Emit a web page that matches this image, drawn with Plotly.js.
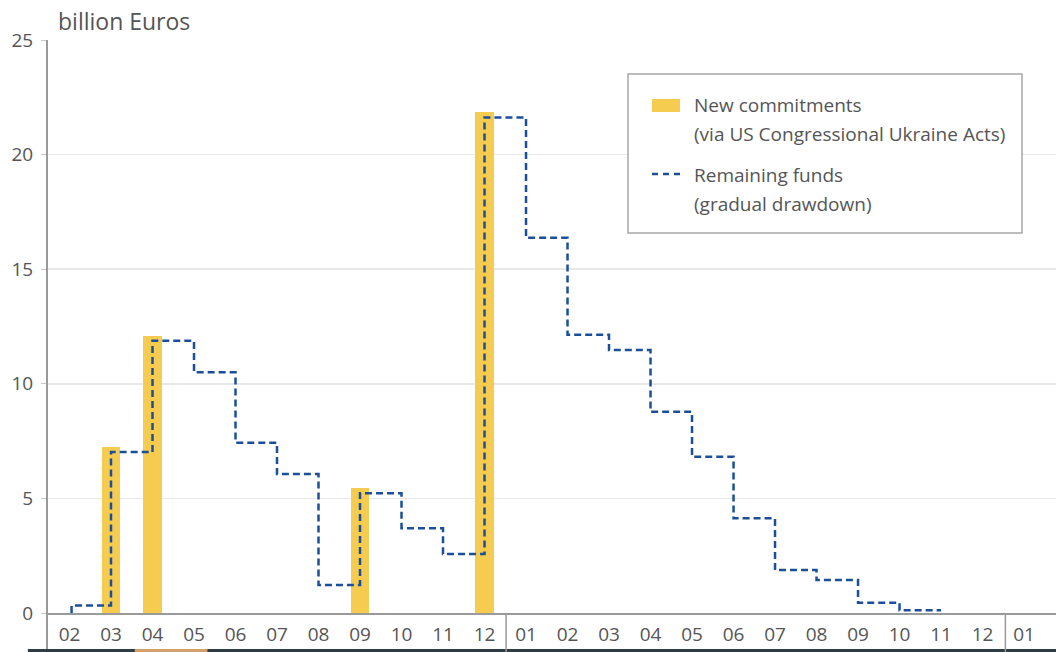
<!DOCTYPE html>
<html>
<head>
<meta charset="utf-8">
<script src="https://cdn.plot.ly/plotly-3.0.1.min.js"></script>
<style>
  html, body { margin: 0; padding: 0; background: #ffffff; }
  #chart { width: 1056px; height: 652px; }
</style>
</head>
<body>
<div id="chart"></div>
<script>
// Month positions (Feb 2022 .. Jan 2024) and their tick labels
const monthIndex = [0,1,2,3,4,5,6,7,8,9,10,11,12,13,14,15,16,17,18,19,20,21,22,23];
const monthLabels = ["02","03","04","05","06","07","08","09","10","11","12",
                     "01","02","03","04","05","06","07","08","09","10","11","12","01"];

// New commitments (billion Euros) – bars
const commitMonths = [1, 2, 7, 10];
const commitValues = [7.25, 12.1, 5.45, 21.85];

// Remaining funds (billion Euros) – step line, level held from each month to the next
const fundsMonths = [0.05, 0.05, 1, 2, 3, 4, 5, 6, 7, 8, 9, 10, 11, 12, 13, 14, 15, 16, 17, 18, 19, 20, 21];
const fundsValues = [0, 0.33, 7.02, 11.88, 10.5, 7.43, 6.06, 1.22, 5.23, 3.7, 2.57,
                     21.62, 16.37, 12.14, 11.47, 8.78, 6.82, 4.13, 1.88, 1.44, 0.45, 0.12, 0.12];

// Year separators between December and January
const yearBreaks = [10.52, 22.55];

// Legend texts
const legendLines = ["New commitments", "(via US Congressional Ukraine Acts)",
                     "Remaining funds", "(gradual drawdown)"];

const FONT = "Open Sans, Lato, sans-serif";
const TXT = "#555555";
const BAR = "#F5CC4F";
const LINE = "#1B4F9C";

const traces = [
  {
    type: "bar",
    name: legendLines[0] + " " + legendLines[1],
    x: commitMonths,
    y: commitValues,
    width: 0.45,
    marker: { color: BAR, line: { width: 0 } },
    showlegend: false,
    hoverinfo: "y"
  },
  {
    type: "scatter",
    mode: "lines",
    name: legendLines[2] + " " + legendLines[3],
    x: fundsMonths,
    y: fundsValues,
    line: { shape: "hv", color: LINE, width: 2.5, dash: "7px,4px" },
    showlegend: false,
    hoverinfo: "y"
  }
];

// pixel -> paper helpers for the legend box (plot area: x 47..1056, y 40..613)
const px = v => (v - 47) / 1009;
const py = v => (613 - v) / 573;

const shapes = [
  // y axis line extended down through the label band
  { type: "line", xref: "paper", yref: "paper", x0: 0, x1: 0, y0: -0.07, y1: 1,
    line: { color: "#999999", width: 2 } },
  // bottom strip
  { type: "rect", xref: "paper", yref: "paper", x0: -0.019, x1: 1, y0: -0.0685, y1: -0.063,
    fillcolor: "#2F3E46", line: { width: 0 } },
  { type: "rect", xref: "paper", yref: "paper", x0: 0.087, x1: 0.159, y0: -0.0685, y1: -0.063,
    fillcolor: "#D4A06A", line: { width: 0 } },
  // legend box
  { type: "rect", xref: "paper", yref: "paper", x0: px(628), x1: px(1022), y0: py(233), y1: py(74),
    fillcolor: "#ffffff", line: { color: "#A8A8A8", width: 1.5 } },
  // legend swatch (bars)
  { type: "rect", xref: "paper", yref: "paper", x0: px(652), x1: px(680), y0: py(112), y1: py(99),
    fillcolor: BAR, line: { width: 0 } },
  // legend swatch (line)
  { type: "line", xref: "paper", yref: "paper", x0: px(652), x1: px(680), y0: py(174), y1: py(174),
    line: { color: LINE, width: 2.5, dash: "6px,5px" } }
];
yearBreaks.forEach(b => shapes.push({
  type: "line", xref: "x", yref: "paper", x0: b, x1: b, y0: -0.07, y1: 0,
  line: { color: "#999999", width: 1.5 }
}));

const legendY = [105, 134, 175, 204];
const annotations = [
  { text: "billion Euros", xref: "paper", yref: "paper", x: 0, y: 1,
    xanchor: "left", yanchor: "middle", xshift: 9, yshift: 19, showarrow: false,
    font: { family: FONT, size: 23, color: TXT } }
];
legendLines.forEach((t, i) => annotations.push({
  text: t, xref: "paper", yref: "paper", x: px(692), y: py(legendY[i]),
  xanchor: "left", yanchor: "middle", showarrow: false,
  font: { family: FONT, size: 19, color: TXT }
}));

const layout = {
  width: 1056,
  height: 652,
  margin: { l: 47, r: 0, t: 40, b: 39, pad: 0 },
  paper_bgcolor: "#ffffff",
  plot_bgcolor: "#ffffff",
  font: { family: FONT, color: TXT, size: 19 },
  bargap: 0,
  showlegend: false,
  xaxis: {
    type: "linear",
    range: [-0.542, 23.77],
    tickmode: "array",
    tickvals: monthIndex,
    ticktext: monthLabels,
    ticks: "",
    ticklabelstandoff: 3,
    showgrid: false,
    zeroline: false,
    showline: true,
    linecolor: "#9A9A9A",
    linewidth: 2,
    tickfont: { family: FONT, size: 19, color: TXT },
    fixedrange: true
  },
  yaxis: {
    range: [0, 25],
    tickmode: "array",
    tickvals: [0, 5, 10, 15, 20, 25],
    ticks: "outside",
    ticklen: 5,
    tickcolor: "#C8C8C8",
    tickwidth: 1,
    ticklabelstandoff: 4,
    showgrid: true,
    gridcolor: "#E8E8E8",
    gridwidth: 1.5,
    zeroline: false,
    showline: false,
    tickfont: { family: FONT, size: 19, color: TXT },
    fixedrange: true
  },
  shapes: shapes,
  annotations: annotations
};

Plotly.newPlot("chart", traces, layout, { displayModeBar: false, staticPlot: true });
</script>
</body>
</html>
